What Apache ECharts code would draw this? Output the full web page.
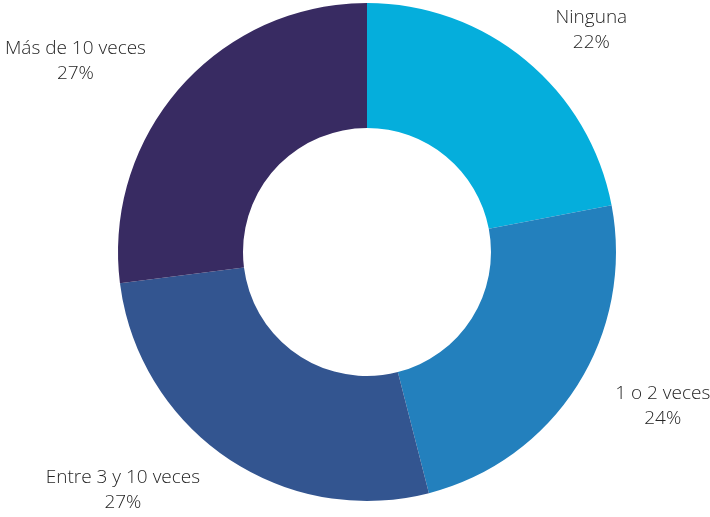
<!DOCTYPE html>
<html>
<head>
<meta charset="utf-8">
<script src="https://cdn.jsdelivr.net/npm/echarts@6/dist/echarts.min.js"></script>
<style>
  html, body { margin: 0; padding: 0; background: #fff; }
  #chart { width: 710px; height: 517px; }
</style>
</head>
<body>
<div id="chart"></div>
<script>
var categories = ['Ninguna', '1 o 2 veces', 'Entre 3 y 10 veces', 'Más de 10 veces'];
var values = [22, 24, 27, 27];
var colors = ['#05aedc', '#2380bd', '#335590', '#382b62'];

var chart = echarts.init(document.getElementById('chart'));

var data = categories.map(function (name, i) {
    return { name: name, value: values[i], itemStyle: { color: colors[i] } };
});

chart.setOption({
    backgroundColor: '#fff',
    animation: false,
    series: [{
        type: 'pie',
        center: [367, 252],
        radius: [124, 249],
        startAngle: 90,
        clockwise: true,
        avoidLabelOverlap: false,
        label: {
            show: true,
            position: 'outside',
            formatter: '{a|{b}}\n{a|{c}%}',
            rich: {
                a: {
                    align: 'center',
                    fontFamily: 'Open Sans',
                    fontWeight: 300,
                    fontSize: 19,
                    lineHeight: 25,
                    color: '#262626'
                }
            }
        },
        labelLine: { show: false, length: 39, length2: 0 },
        data: data
    }]
});
</script>
</body>
</html>
